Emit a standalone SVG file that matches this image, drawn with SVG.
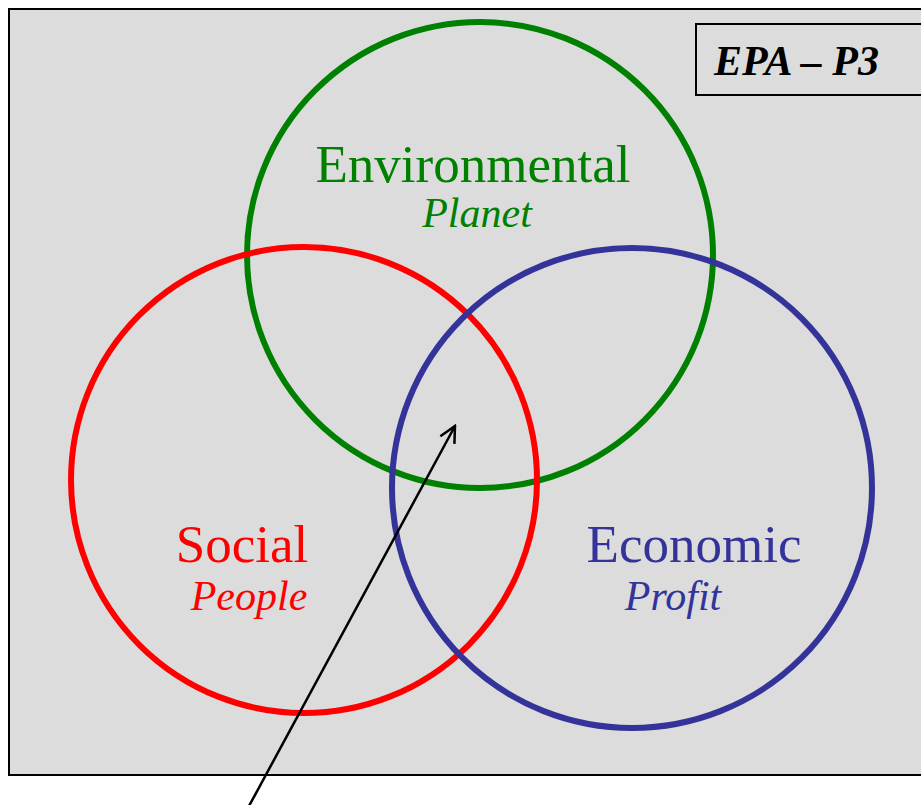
<svg xmlns="http://www.w3.org/2000/svg" width="921" height="805" viewBox="0 0 921 805">
<style>
.ring{fill:none;stroke-width:6}
.t{font-family:"Liberation Serif","Times New Roman",serif;text-anchor:middle}
.big{font-size:53px}
.sub{font-size:42px;font-style:italic}
</style>
<defs>
<marker id="ah" viewBox="0 0 20 20" refX="18" refY="10" markerWidth="20" markerHeight="20" markerUnits="userSpaceOnUse" orient="auto">
<path d="M2,2 L18,10 L2,18" fill="none" stroke="#000" stroke-width="2.5"/>
</marker>
</defs>
<rect x="0" y="0" width="921" height="805" fill="#fff"/>
<rect id="frame" x="9" y="9" width="920" height="766" fill="#dcdcdc" stroke="#000" stroke-width="2"/>
<g id="label-box">
<rect x="696" y="24" width="230" height="71" fill="#dcdcdc" stroke="#000" stroke-width="2"/>
<text x="714" y="75" font-family="Liberation Serif,serif" font-size="42" font-weight="bold" font-style="italic">EPA – P3</text>
</g>
<g id="environmental">
<circle class="ring" cx="480" cy="255" r="233" stroke="#008000"/>
<text class="t big" x="473" y="182" fill="#008000">Environmental</text>
<text class="t sub" x="477" y="227" fill="#008000">Planet</text>
</g>
<g id="social">
<circle class="ring" cx="304" cy="480" r="233" stroke="#ff0000"/>
<text class="t big" x="242" y="562" fill="#ff0000">Social</text>
<text class="t sub" x="249" y="610" fill="#ff0000">People</text>
</g>
<g id="economic">
<circle class="ring" cx="632" cy="488" r="240" stroke="#333399"/>
<text class="t big" x="694" y="562" fill="#333399">Economic</text>
<text class="t sub" x="673" y="610" fill="#333399">Profit</text>
</g>
<g id="connectors">
<line x1="249" y1="806" x2="455" y2="426" stroke="#000" stroke-width="2.5" marker-end="url(#ah)"/>
</g>
</svg>
